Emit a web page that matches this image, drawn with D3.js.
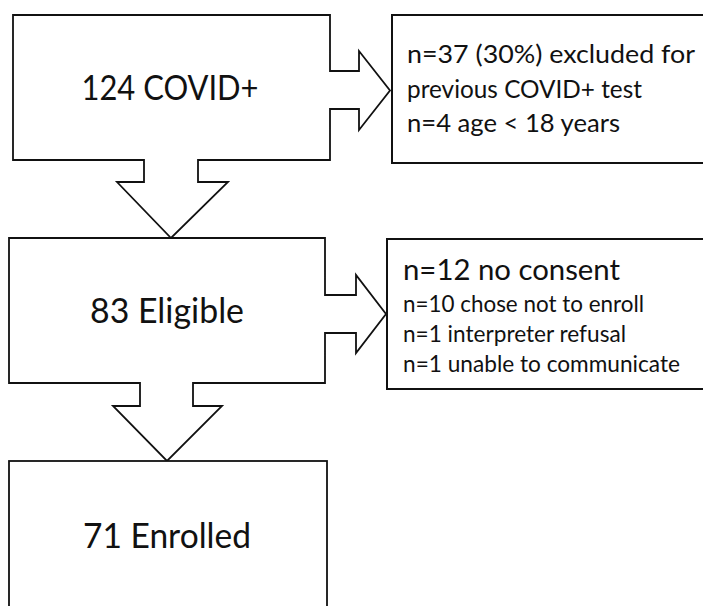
<!DOCTYPE html>
<html>
<head>
<meta charset="utf-8">
<script src="https://cdn.jsdelivr.net/npm/d3@7"></script>
<style>
  html, body { margin: 0; padding: 0; background: #fff; }
  svg { display: block; }
  text { font-family: Lato, "Open Sans", sans-serif; fill: #111; }
</style>
</head>
<body>
<svg id="chart" width="703" height="606"></svg>
<script>
// ---- data ----
const stageCounts = [124, 83, 71];
const stageLabels = ["COVID+", "Eligible", "Enrolled"];
const exclusion1Lines = ["n=37 (30%) excluded for", "previous COVID+ test", "n=4 age < 18 years"];
const exclusion2Head = ["n=12 no consent"];
const exclusion2Lines = ["n=10 chose not to enroll", "n=1 interpreter refusal", "n=1 unable to communicate"];

// ---- layout ----
const svg = d3.select("#chart");
const line = d3.line();

function boxWithArrows(b) {
  const midY = (b.hy0 + b.hy1) / 2;
  return line([
    [b.x0, b.y0], [b.x1, b.y0],
    [b.x1, b.ry0], [b.hx, b.ry0], [b.hx, b.hy0], [b.tipX, midY], [b.hx, b.hy1], [b.hx, b.ry1], [b.x1, b.ry1],
    [b.x1, b.y1], [b.dx1, b.y1], [b.dx1, b.dy], [b.dhx1, b.dy], [b.tipXm, b.tipY], [b.dhx0, b.dy], [b.dx0, b.dy], [b.dx0, b.y1],
    [b.x0, b.y1]
  ]) + "Z";
}

const shapes = [
  { x0: 13, x1: 330, y0: 15, y1: 160,
    ry0: 71, ry1: 109, hx: 359, hy0: 51, hy1: 130, tipX: 390,
    dx0: 144, dx1: 198, dy: 182, dhx0: 117, dhx1: 228, tipXm: 171, tipY: 238 },
  { x0: 9, x1: 325, y0: 238, y1: 383,
    ry0: 295, ry1: 333, hx: 356, hy0: 275, hy1: 353, tipX: 386,
    dx0: 140, dx1: 193, dy: 406, dhx0: 113, dhx1: 222, tipXm: 167, tipY: 461 }
];

const g = svg.append("g");
g.selectAll("path.flow").data(shapes).join("path")
  .attr("class", "flow")
  .attr("d", boxWithArrows)
  .attr("fill", "#fff").attr("stroke", "#111").attr("stroke-width", 1.8)
  .attr("stroke-linejoin", "miter");

g.append("rect").attr("x", 9).attr("y", 461).attr("width", 318).attr("height", 200)
  .attr("fill", "#fff").attr("stroke", "#111").attr("stroke-width", 1.8);

g.append("rect").attr("x", 392).attr("y", 15).attr("width", 330).attr("height", 148)
  .attr("fill", "#fff").attr("stroke", "#111").attr("stroke-width", 2);
g.append("rect").attr("x", 387).attr("y", 239).attr("width", 335).attr("height", 150)
  .attr("fill", "#fff").attr("stroke", "#111").attr("stroke-width", 2);

function addText(cls, data, opts) {
  return svg.selectAll("text." + cls).data(data).join("text")
    .attr("class", cls)
    .attr("x", (d, i) => opts.x[i] ?? opts.x[0])
    .attr("y", (d, i) => opts.y[i])
    .attr("text-anchor", opts.anchor || "start")
    .attr("font-size", opts.size)
    .attr("textLength", (d, i) => opts.w[i])
    .attr("lengthAdjust", "spacingAndGlyphs")
    .text(d => d);
}

const stageText = stageCounts.map((c, i) => `${c} ${stageLabels[i]}`);
addText("stage", stageText, {
  x: [170, 167, 167], y: [100, 323, 548], anchor: "middle", size: 34, w: [177, 154, 168]
});
addText("ex1", exclusion1Lines, {
  x: [407], y: [63, 98, 132], size: 25.5, w: [288, 235, 213]
});
addText("ex2h", exclusion2Head, {
  x: [403], y: [280], size: 28, w: [217]
});
addText("ex2", exclusion2Lines, {
  x: [403], y: [312, 342, 372], size: 22.5, w: [241, 223, 277]
});
</script>
</body>
</html>
